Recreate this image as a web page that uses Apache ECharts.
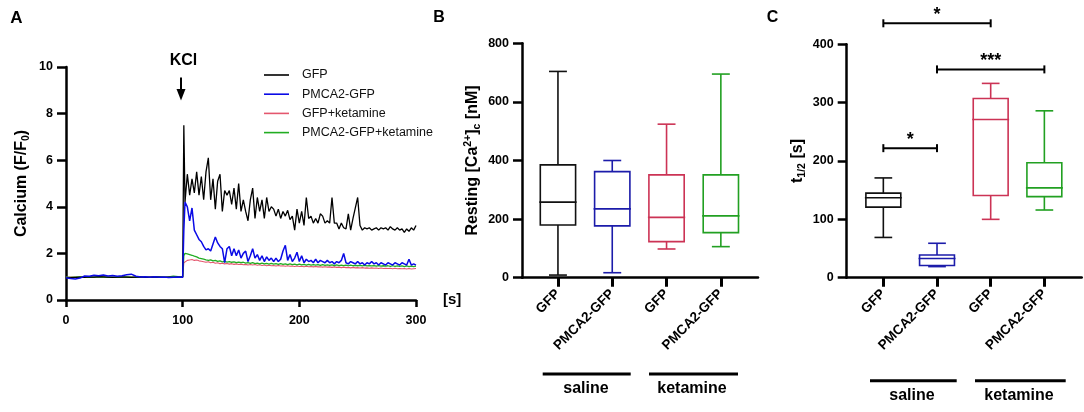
<!DOCTYPE html>
<html>
<head>
<meta charset="utf-8">
<title>Calcium responses, resting calcium and t1/2</title>
<script src="https://cdn.jsdelivr.net/npm/echarts@6.0.0/dist/echarts.min.js"></script>
<style>
  html, body { margin: 0; padding: 0; background: #fff; }
  #chart { width: 1084px; height: 412px; }
</style>
</head>
<body>
<div id="chart"></div>
<script>
// ---------- panel A: calcium traces (F/F0) ----------
const timeSec = [
  0, 4, 8, 12, 16, 20, 24, 28, 32, 36, 40, 44, 48, 52, 56, 60, 64, 68, 72, 76, 80, 84, 88, 92, 96, 100,
  101,
  102, 104, 106, 108, 110, 112, 114, 116, 118, 120,
  122, 124, 126, 128, 130, 132, 134, 136, 138, 140,
  142, 144, 146, 148, 150, 152, 154, 156, 158, 160,
  162, 164, 166, 168, 170, 172, 174, 176, 178, 180,
  182, 184, 186, 188, 190, 192, 194, 196, 198, 200,
  202, 204, 206, 208, 210, 212, 214, 216, 218, 220,
  222, 224, 226, 228, 230, 232, 234, 236, 238, 240,
  242, 244, 246, 248, 250, 252, 254, 256, 258, 260,
  262, 264, 266, 268, 270, 272, 274, 276, 278, 280,
  282, 284, 286, 288, 290, 292, 294, 296, 298, 300
];

const gfp = [
  0.95, 0.96, 0.97, 0.98, 0.97, 0.99, 0.98, 1.0, 0.99, 0.98, 0.97, 0.98, 0.99, 0.98, 0.97, 0.98, 0.99, 0.97, 0.98, 0.99, 0.98, 0.97, 0.98, 0.97, 0.98, 0.98,
  7.5,
  4.2, 5.4, 4.5, 5.2, 4.6, 5.5, 4.5, 5.3, 4.3, 5.5,
  6.1, 4.3, 5.2, 3.9, 5.1, 5.4, 3.8, 4.7, 4.5, 4.7,
  4.1, 4.8, 3.9, 5.0, 3.8, 4.3, 3.8, 3.4, 4.3, 4.8,
  3.5, 4.4, 3.8, 4.3, 3.5, 4.4, 3.8, 4.0, 3.9, 3.6,
  3.9, 3.5, 3.8, 3.6, 3.85, 3.45, 3.6, 3.0, 3.9, 3.3,
  3.8, 3.2, 4.4, 3.5, 3.6, 3.3, 3.5, 3.3, 3.7, 3.6,
  3.3, 3.4, 3.3, 4.4, 3.3, 3.3, 3.05, 3.3, 3.1, 3.05,
  3.7, 3.0, 3.5, 3.95, 4.4, 3.2, 3.0, 3.1, 3.05, 3.1,
  3.0, 3.05, 3.1, 3.0, 3.1, 3.05, 3.1, 3.0, 3.15, 3.05,
  3.0, 3.1, 3.0, 3.05, 2.9, 3.05, 2.95, 3.1, 3.0, 3.2
];

const pmca2 = [
  0.95, 0.92, 0.9, 0.94, 1.03, 1.02, 1.06, 1.04, 1.07, 1.03, 1.05, 1.02, 1.04, 1.08, 1.11, 1.02, 0.99, 1.0, 0.98, 1.0, 0.98, 0.99, 0.97, 0.98, 0.99, 0.98,
  3.0,
  4.2, 4.0, 3.4, 3.95, 3.0, 2.8, 2.6, 2.5, 2.3, 2.15,
  2.2, 2.1, 2.4, 2.7, 2.45, 2.3, 2.2, 1.6, 2.2, 2.3,
  1.9, 2.2, 1.9, 2.15, 1.8, 2.0, 2.1, 1.65, 1.9, 2.2,
  1.8, 1.95, 1.7, 1.9, 1.65, 1.85, 1.7, 1.8, 1.65, 1.8,
  1.65, 1.75, 2.1, 2.35, 1.7, 1.95, 1.65, 1.8, 2.05, 1.65,
  1.9, 1.6, 1.75, 1.65, 1.7, 1.6, 1.75, 1.6, 1.7, 1.65,
  1.6, 1.7, 1.6, 1.65, 1.55, 1.65, 1.6, 1.7, 2.0, 1.6,
  1.55, 1.65, 1.6, 1.55, 1.65, 1.55, 1.6, 1.5, 1.6, 1.55,
  1.65, 1.55, 1.6, 1.5, 1.6, 1.55, 1.5, 1.6, 1.55, 1.5,
  1.6, 1.55, 1.5, 1.6, 1.55, 1.5, 1.75, 1.5, 1.55, 1.5
];

const gfpKet = [
  0.97, 0.98, 0.97, 0.98, 0.99, 0.98, 0.97, 0.98, 0.99, 0.98, 0.97, 0.98, 0.98, 0.97, 0.98, 0.99, 0.98, 0.97, 0.98, 0.97, 0.98, 0.99, 0.98, 0.97, 0.98, 0.98,
  1.6,
  1.68, 1.7, 1.72, 1.74, 1.7, 1.72, 1.68, 1.66, 1.64, 1.62,
  1.64, 1.6, 1.62, 1.58, 1.6, 1.56, 1.58, 1.55, 1.57, 1.54,
  1.56, 1.53, 1.55, 1.52, 1.54, 1.51, 1.53, 1.5, 1.52, 1.5,
  1.52, 1.49, 1.51, 1.48, 1.5, 1.47, 1.49, 1.47, 1.48, 1.46,
  1.48, 1.46, 1.47, 1.45, 1.47, 1.45, 1.46, 1.44, 1.46, 1.44,
  1.45, 1.43, 1.45, 1.43, 1.44, 1.42, 1.44, 1.42, 1.43, 1.41,
  1.43, 1.41, 1.42, 1.4, 1.42, 1.4, 1.41, 1.39, 1.41, 1.39,
  1.4, 1.38, 1.4, 1.38, 1.39, 1.37, 1.39, 1.37, 1.38, 1.36,
  1.38, 1.36, 1.37, 1.35, 1.37, 1.35, 1.36, 1.35, 1.36, 1.34,
  1.36, 1.34, 1.35, 1.34, 1.35, 1.33, 1.35, 1.33, 1.34, 1.35
];

const pmca2Ket = [
  0.98, 0.97, 0.98, 0.99, 0.98, 0.97, 0.98, 0.99, 0.98, 0.97, 0.98, 0.97, 0.98, 0.99, 0.98, 0.97, 0.98, 0.98, 0.97, 0.98, 0.99, 0.98, 0.99, 1.02, 1.0, 0.99,
  1.9,
  2.0, 1.98, 1.95, 1.92, 1.88, 1.85, 1.8, 1.78, 1.75, 1.72,
  1.7, 1.72, 1.68, 1.7, 1.66, 1.68, 1.64, 1.66, 1.63, 1.65,
  1.62, 1.64, 1.6, 1.63, 1.6, 1.62, 1.58, 1.6, 1.57, 1.6,
  1.56, 1.58, 1.55, 1.58, 1.55, 1.57, 1.54, 1.57, 1.54, 1.56,
  1.53, 1.56, 1.53, 1.55, 1.52, 1.55, 1.52, 1.54, 1.51, 1.54,
  1.51, 1.53, 1.5, 1.53, 1.5, 1.52, 1.5, 1.52, 1.49, 1.52,
  1.49, 1.51, 1.49, 1.51, 1.48, 1.51, 1.48, 1.5, 1.48, 1.5,
  1.47, 1.5, 1.47, 1.49, 1.47, 1.49, 1.46, 1.49, 1.46, 1.48,
  1.46, 1.48, 1.45, 1.48, 1.45, 1.47, 1.45, 1.47, 1.44, 1.47,
  1.44, 1.46, 1.44, 1.46, 1.43, 1.46, 1.43, 1.45, 1.43, 1.45
];

// ---------- panels B and C: box plots ----------
const groupNames = ['GFP', 'PMCA2-GFP', 'GFP', 'PMCA2-GFP'];

// B: resting [Ca2+]c in nM
const restingMin = [9, 17, 98, 106];
const restingQ1 = [180, 177, 123, 154];
const restingMedian = [258, 235, 206, 211];
const restingQ3 = [385, 362, 351, 351];
const restingMax = [704, 400, 524, 695];

// C: t1/2 in s
const halfMin = [69, 19, 100, 116];
const halfQ1 = [121, 21, 141, 139];
const halfMedian = [137, 33, 271, 154];
const halfQ3 = [145, 39, 307, 197];
const halfMax = [171, 59, 333, 286];

// C: significance brackets (group index from/to, height in s, label)
const sigFrom = [0, 1, 0];
const sigTo = [2, 3, 1];
const sigAt = [436, 357, 222];
const sigLabel = ['*', '***', '*'];

const FONT = '"Liberation Sans", Arial, sans-serif';
const traceColors = ['#000000', '#0a0ae6', '#e4576e', '#22ad22'];
const boxColors = ['#111111', '#1c1caa', '#cc3355', '#22a022'];

const chart = echarts.init(document.getElementById('chart'));

const tickLabel = { color: '#000', fontSize: 12.5, fontWeight: 'bold', fontFamily: FONT };
const axisLine = { show: true, lineStyle: { color: '#000', width: 2.5 } };
const nameRich = {
    a: { fontSize: 16, fontWeight: 'bold', fontFamily: FONT, color: '#000', lineHeight: 20 },
    sup: { fontSize: 10.5, fontWeight: 'bold', fontFamily: FONT, color: '#000', lineHeight: 10, verticalAlign: 'top' },
    sub: { fontSize: 10.5, fontWeight: 'bold', fontFamily: FONT, color: '#000', lineHeight: 10, verticalAlign: 'bottom' }
};

function boxItems(mins, q1s, meds, q3s, maxs) {
    return mins.map((m, i) => [i, m, q1s[i], meds[i], q3s[i], maxs[i]]);
}

// box with half-width whisker caps, like the prism style in the figure
function renderBox(params, api) {
    const x = api.value(0);
    const band = api.size([1, 0])[0];
    const hb = band * 0.325;
    const hc = band * 0.165;
    const lo = api.coord([x, api.value(1)]);
    const cx = lo[0];
    const yMin = lo[1];
    const yQ1 = api.coord([x, api.value(2)])[1];
    const yMed = api.coord([x, api.value(3)])[1];
    const yQ3 = api.coord([x, api.value(4)])[1];
    const yMax = api.coord([x, api.value(5)])[1];
    const st = () => ({ stroke: boxColors[params.dataIndex], lineWidth: 1.6, fill: 'none' });
    return {
        type: 'group',
        children: [
            { type: 'rect', shape: { x: cx - hb, y: yQ3, width: hb * 2, height: yQ1 - yQ3 }, style: st() },
            { type: 'line', shape: { x1: cx - hb - 1, y1: yMed, x2: cx + hb + 1, y2: yMed }, style: st() },
            { type: 'line', shape: { x1: cx, y1: yQ3, x2: cx, y2: yMax }, style: st() },
            { type: 'line', shape: { x1: cx, y1: yQ1, x2: cx, y2: yMin }, style: st() },
            { type: 'line', shape: { x1: cx - hc, y1: yMax, x2: cx + hc, y2: yMax }, style: st() },
            { type: 'line', shape: { x1: cx - hc, y1: yMin, x2: cx + hc, y2: yMin }, style: st() }
        ]
    };
}

function renderBracket(params, api) {
    const p1 = api.coord([api.value(0), api.value(2)]);
    const p2 = api.coord([api.value(1), api.value(2)]);
    const st = () => ({ stroke: '#000', lineWidth: 2 });
    return {
        type: 'group',
        children: [
            { type: 'line', shape: { x1: p1[0], y1: p1[1], x2: p2[0], y2: p2[1] }, style: st() },
            { type: 'line', shape: { x1: p1[0], y1: p1[1] - 4, x2: p1[0], y2: p1[1] + 4 }, style: st() },
            { type: 'line', shape: { x1: p2[0], y1: p2[1] - 4, x2: p2[0], y2: p2[1] + 4 }, style: st() },
            {
                type: 'text', x: (p1[0] + p2[0]) / 2, y: p1[1] - 8,
                style: { text: sigLabel[params.dataIndex], font: 'bold 18px ' + FONT, fill: '#000', align: 'center', verticalAlign: 'middle' }
            }
        ]
    };
}

function catAxis(grid) {
    return {
        gridIndex: grid, type: 'category', data: groupNames,
        axisLine: { show: false },
        axisTick: { show: true, alignWithLabel: true, interval: 0, length: 9, lineStyle: { color: '#000', width: 3 } },
        axisLabel: Object.assign({ interval: 0, rotate: 45, margin: 14 }, tickLabel, { fontSize: 13.5 }),
        splitLine: { show: false }
    };
}

function frameX(grid) {
    return {
        gridIndex: grid, type: 'value', min: 0, max: 1, axisLine: axisLine,
        axisTick: { show: false }, axisLabel: { show: false }, splitLine: { show: false }
    };
}

function valueY(grid, max, interval, name, gap) {
    return {
        gridIndex: grid, type: 'value', min: 0, max: max, interval: interval,
        name: name, nameLocation: 'middle', nameGap: gap, nameTextStyle: { rich: nameRich },
        axisLine: axisLine,
        axisTick: { show: true, length: 9, lineStyle: { color: '#000', width: 2.5 } },
        axisLabel: Object.assign({ margin: 13 }, tickLabel),
        splitLine: { show: false }
    };
}

function hiddenY(grid, max) {
    return { gridIndex: grid, type: 'value', min: 0, max: max, show: false };
}

function text(str, x, y, size) {
    return {
        type: 'text', x: x, y: y,
        style: { text: str, font: 'bold ' + size + 'px ' + FONT, fill: '#000', align: 'center', verticalAlign: 'middle' }
    };
}

function bar(x1, x2, y) {
    return { type: 'line', shape: { x1: x1, y1: y, x2: x2, y2: y }, style: { stroke: '#000', lineWidth: 3 } };
}

const traces = [
    { name: 'GFP', values: gfp, width: 1.3, z: 3 },
    { name: 'PMCA2-GFP', values: pmca2, width: 1.5, z: 4 },
    { name: 'GFP+ketamine', values: gfpKet, width: 1.1, z: 1 },
    { name: 'PMCA2-GFP+ketamine', values: pmca2Ket, width: 1.3, z: 2 }
];

chart.setOption({
    animation: false,
    backgroundColor: '#fff',
    grid: [
        { left: 66, top: 67, width: 350, height: 233 },
        { left: 522, top: 43.3, width: 236, height: 234.4 },
        { left: 530.8, top: 43.3, width: 217.2, height: 234.4 },
        { left: 846.7, top: 44.3, width: 235, height: 233.4 },
        { left: 856.5, top: 44.3, width: 214.7, height: 233.4 }
    ],
    legend: {
        data: traces.map(t => t.name),
        orient: 'vertical', left: 259, top: 63,
        icon: 'rect', itemWidth: 25, itemHeight: 1.6, itemGap: 5.2,
        selectedMode: false,
        textStyle: { fontSize: 12.5, lineHeight: 14, color: '#111', fontFamily: FONT, padding: [0, 0, 0, 8] }
    },
    xAxis: [
        {
            gridIndex: 0, type: 'value', min: 0, max: 300, interval: 100,
            name: '[s]', nameLocation: 'end', nameGap: 27,
            nameTextStyle: { fontSize: 15, fontWeight: 'bold', fontFamily: FONT, color: '#000', padding: [20, 0, 0, 0] },
            axisLine: axisLine,
            axisTick: { show: true, length: 7, lineStyle: { color: '#000', width: 2.5 } },
            axisLabel: Object.assign({ margin: 14 }, tickLabel),
            splitLine: { show: false }
        },
        frameX(1),
        catAxis(2),
        frameX(3),
        catAxis(4)
    ],
    yAxis: [
        valueY(0, 10, 2, '{a|Calcium (F/F}{sub|0}{a|)}', 34),
        valueY(1, 800, 200, '{a|Resting [Ca}{sup|2+}{a|]}{sub|c}{a| [nM]}', 39),
        hiddenY(2, 800),
        valueY(3, 400, 100, '{a|t}{sub|1/2}{a| [s]}', 39),
        hiddenY(4, 400)
    ],
    series: traces.map((t, k) => ({
        name: t.name, type: 'line', xAxisIndex: 0, yAxisIndex: 0,
        data: timeSec.map((s, i) => [s, t.values[i]]),
        symbol: 'none', showSymbol: false, silent: true, z: t.z,
        lineStyle: { color: traceColors[k], width: t.width },
        itemStyle: { color: traceColors[k] }
    })).concat([
        {
            type: 'custom', xAxisIndex: 2, yAxisIndex: 2, silent: true,
            renderItem: renderBox,
            data: boxItems(restingMin, restingQ1, restingMedian, restingQ3, restingMax)
        },
        {
            type: 'custom', xAxisIndex: 4, yAxisIndex: 4, silent: true,
            renderItem: renderBox,
            data: boxItems(halfMin, halfQ1, halfMedian, halfQ3, halfMax)
        },
        {
            type: 'custom', xAxisIndex: 4, yAxisIndex: 4, silent: true, clip: false,
            renderItem: renderBracket,
            data: sigFrom.map((f, i) => [f, sigTo[i], sigAt[i]])
        }
    ]),
    graphic: {
        elements: [
            text('A', 16.5, 18.5, 17),
            text('B', 439, 17.5, 16),
            text('C', 772.5, 17.5, 16),
            // KCl application marker
            text('KCl', 183.5, 61, 16),
            { type: 'line', shape: { x1: 181, y1: 77.5, x2: 181, y2: 91 }, style: { stroke: '#000', lineWidth: 2 } },
            { type: 'polygon', shape: { points: [[176.5, 89], [185.5, 89], [181, 100.5]] }, style: { fill: '#000' } },
            // treatment groups under B
            bar(542.7, 630.7, 374), bar(649, 738, 374),
            text('saline', 586, 388.5, 16), text('ketamine', 692, 388.5, 16),
            // treatment groups under C
            bar(870, 956.7, 380.7), bar(975, 1065.7, 380.7),
            text('saline', 912, 396, 16), text('ketamine', 1019, 396, 16)
        ]
    }
});
</script>
</body>
</html>
